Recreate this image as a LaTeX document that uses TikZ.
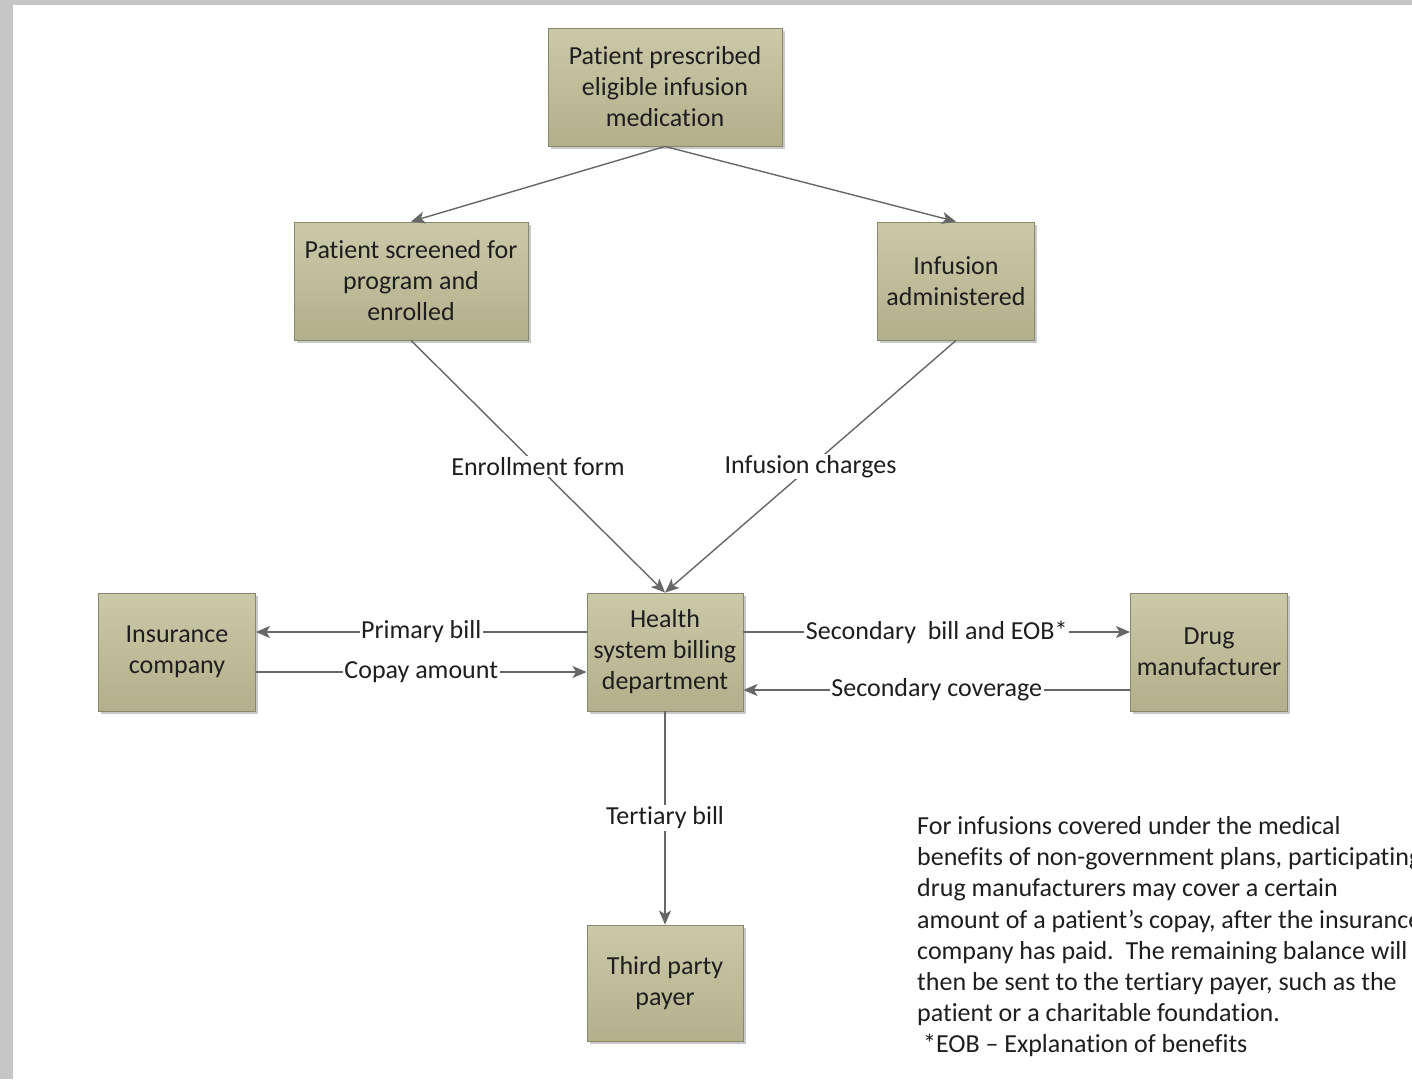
\documentclass[tikz,border=0pt]{standalone}
\usepackage{fontspec}
\setmainfont[Ligatures=NoCommon]{Carlito}
\usetikzlibrary{arrows.meta,shadows}

\definecolor{pagegray}{HTML}{C6C6C6}
\definecolor{boxtop}{HTML}{CAC9A8}
\definecolor{boxbot}{HTML}{B2B08B}
\definecolor{boxline}{HTML}{8A886C}
\definecolor{wire}{HTML}{676767}
\definecolor{ink}{HTML}{1E1E1E}

\tikzset{
  stage/.style={draw=boxline, line width=0.9pt, top color=boxtop, bottom color=boxbot,
    minimum width=#1, minimum height=118pt, inner sep=0pt, align=center,
    text=ink, font=\fontsize{26}{31}\selectfont,
    drop shadow={shadow xshift=2.5pt, shadow yshift=-2.5pt, opacity=0.35, fill=black!60}},
  stage/.default=156pt,
  flow/.style={draw=wire, line width=1.4pt, -{Stealth[length=14pt,width=12pt,inset=3.5pt]}},
  tag/.style={fill=white, inner sep=1.5pt, text=ink, font=\fontsize{26}{31}\selectfont},
  note/.style={anchor=base west, inner sep=0pt, text=ink, font=\fontsize{26}{31}\selectfont}
}

\begin{document}
\begin{tikzpicture}[x=1pt, y=-1pt]
  % page frame
  \fill[pagegray] (0,0) rectangle (1412,1079);
  \fill[white] (13,5) rectangle (1412,1079);
  \useasboundingbox (0,0) rectangle (1412,1079);

  % process boxes
  \node[stage=234pt] (rx)     at (665,87)  {Patient prescribed\\eligible infusion\\medication};
  \node[stage=234pt] (screen) at (411,281) {Patient screened for\\program and\\enrolled};
  \node[stage=157pt] (infuse) at (956,281) {Infusion\\administered};
  \node[stage=156pt] (billing) at (665,652) {Health\\system billing\\department};
  \node[stage=157pt] (insurer) at (177,652) {Insurance\\company};
  \node[stage=157pt] (maker)  at (1209,652) {Drug\\manufacturer};
  \node[stage=156pt, minimum height=116pt] (third) at (665,983) {Third party\\payer};

  % flows from the prescription
  \draw[flow] (rx.south) -- (screen.north);
  \draw[flow] (rx.south) -- (infuse.north);

  % flows into billing
  \draw[flow] (screen.south) -- node[tag] (lenroll) {Enrollment form} (billing.north);
  \draw[flow] (infuse.south) -- node[tag] (lcharge) {Infusion charges} (billing.north);

  % insurance exchange
  \coordinate (bL1) at ([yshift=20pt]billing.west);
  \coordinate (bL2) at ([yshift=-20pt]billing.west);
  \draw[flow] (bL1) -- node[tag] (lprimary) {Primary bill} (bL1 -| insurer.east);
  \draw[flow] (bL2 -| insurer.east) -- node[tag] (lcopay) {Copay amount} (bL2);

  % manufacturer exchange
  \coordinate (bR1) at ([yshift=20pt]billing.east);
  \coordinate (bR2) at ([yshift=-38pt]billing.east);
  \draw[flow] (bR1) -- node[tag] (lsecond) {Secondary\ \ bill and EOB*} (bR1 -| maker.west);
  \draw[flow] (bR2 -| maker.west) -- node[tag] (lcover) {Secondary coverage} (bR2);

  % tertiary payer
  \draw[flow] (billing.south) -- node[tag] (ltert) {Tertiary bill} (third.north);

  % explanatory note
  \node[note] (note1) at (917,834)  {For infusions covered under the medical};
  \node[note] (note2) at (917,865)  {benefits of non-government plans, participating};
  \node[note] (note3) at (917,896)  {drug manufacturers may cover a certain};
  \node[note] (note4) at (917,928)  {amount of a patient’s copay, after the insurance};
  \node[note] (note5) at (917,959)  {company has paid.\ \ The remaining balance will};
  \node[note] (note6) at (917,990)  {then be sent to the tertiary payer, such as the};
  \node[note] (note7) at (917,1021) {patient or a charitable foundation.};
  \node[note] (note8) at (917,1052) {\ *EOB – Explanation of benefits};
\end{tikzpicture}
\end{document}
